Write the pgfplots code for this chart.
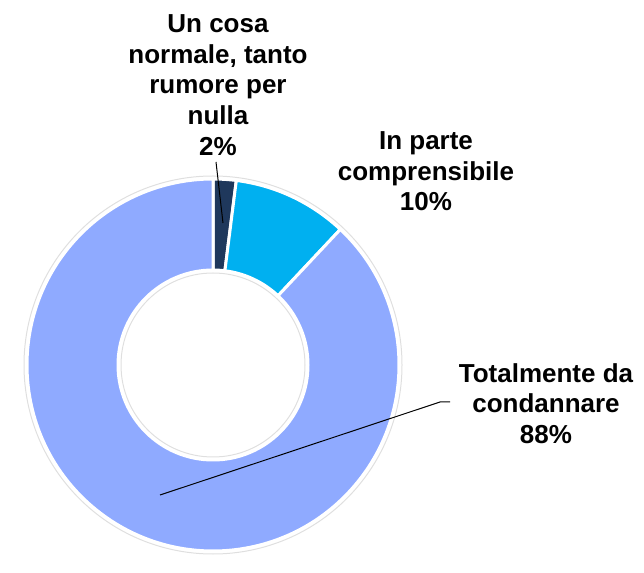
\documentclass[border=0pt]{standalone}
\usepackage{pgfplots}
\pgfplotsset{compat=1.18}
\usepackage{fontspec}
\setmainfont{Liberation Sans}
\definecolor{navy}{RGB}{31,56,92}
\definecolor{cyanb}{RGB}{0,176,240}
\definecolor{peri}{RGB}{143,170,255}
\newcommand\lbl{\fontsize{26}{30.7}\selectfont\bfseries}
\begin{document}
\begin{tikzpicture}
\begin{axis}[hide axis, scale only axis, width=644pt, height=558pt,
  xmin=0, xmax=644, ymin=0, ymax=558, clip=false]
\path (axis cs:0,0) rectangle (axis cs:644,558);
% faint shadow edges of the ring
\draw[gray!25, line width=1pt] (axis cs:213,193) circle[radius=189];
\draw[gray!25, line width=1pt] (axis cs:213,193) circle[radius=92];
% slices: value/colour, clockwise from the top
\def\cum{0}
\pgfplotsforeachungrouped \v/\c in {2/navy, 10/cyanb, 88/peri} {
  \pgfmathsetmacro\a{90-3.6*\cum}
  \pgfmathsetmacro\b{90-3.6*(\cum+\v)}
  \edef\slice{\noexpand\fill[\c, draw=white, line width=3pt, line join=round,
    shift={(axis cs:213,193)}]
    (\a:186) arc[start angle=\a, end angle=\b, radius=186]
    -- (\b:95) arc[start angle=\b, end angle=\a, radius=95] -- cycle;}
  \slice
  \pgfmathsetmacro\cum{\cum+\v}
}
% leader lines
\draw[black, line width=1pt] (axis cs:216,396) -- (axis cs:223,335);
\draw[black, line width=1pt] (axis cs:160,63) -- (axis cs:440,156) -- (axis cs:450,156);
% labels
\node[anchor=north, align=center, inner sep=0pt, font=\lbl] at (axis cs:218,543.6)
  {Un cosa\\normale, tanto\\rumore per\\nulla\\2\%};
\node[anchor=north, align=center, inner sep=0pt, font=\lbl] at (axis cs:426,426.6)
  {In parte\\comprensibile\\10\%};
\node[anchor=north, align=center, inner sep=0pt, font=\lbl] at (axis cs:546,195)
  {Totalmente da\\condannare\\88\%};
\end{axis}
\end{tikzpicture}
\end{document}
